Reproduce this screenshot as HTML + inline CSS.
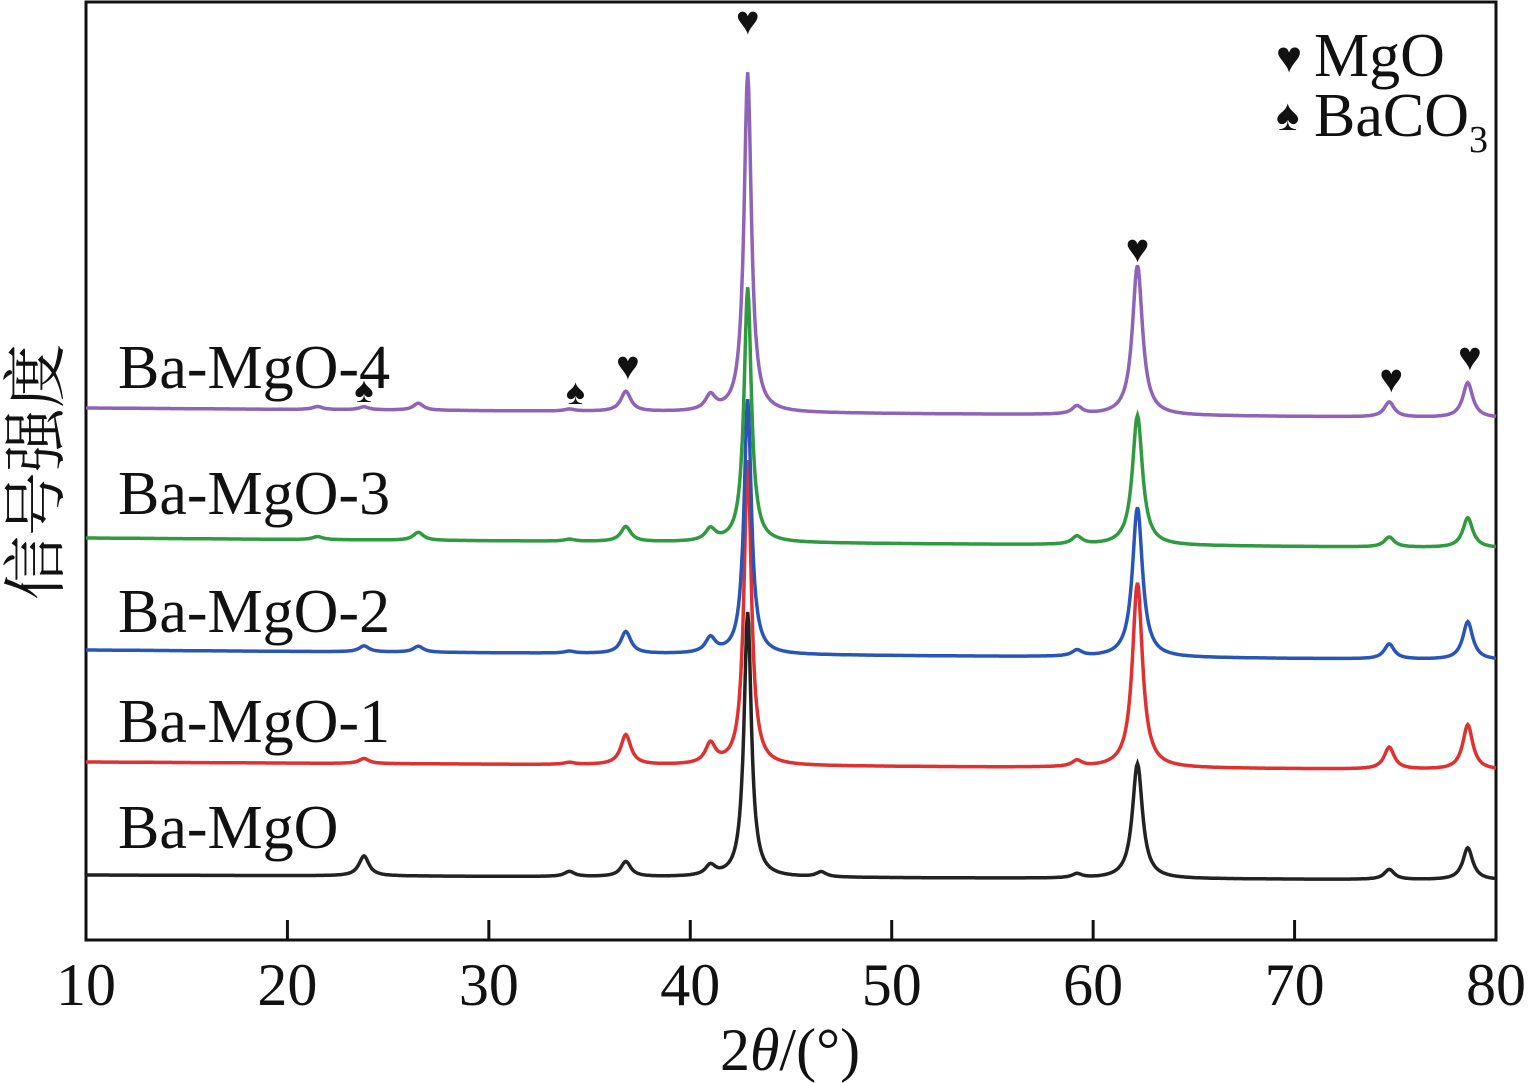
<!DOCTYPE html>
<html><head><meta charset="utf-8"><style>
body{margin:0;background:#fff}
svg{display:block}
text{font-family:"Liberation Serif","Noto Serif CJK SC",serif;fill:#111}
</style></head><body>
<svg id="chart" width="1528" height="1083" viewBox="0 0 1528 1083" xmlns="http://www.w3.org/2000/svg">
<rect x="86" y="2" width="1410" height="938" fill="none" stroke="#111" stroke-width="3"/>
<g id="ticks"></g>
<g id="series"></g>
<g id="marks"></g>
<text transform="translate(58,472) rotate(-90)" text-anchor="middle" font-size="64" style="font-family:'Noto Serif CJK SC','Noto Sans CJK SC',serif">信号强度</text>
<text x="790" y="1070" text-anchor="middle" font-size="60">2<tspan font-style="italic">θ</tspan>/(°)</text>
<g>
<text x="1276" y="72" font-size="44">♥</text>
<text x="1314" y="76" font-size="62">MgO</text>
<text x="1276" y="130" font-size="44">♠</text>
<text x="1314" y="136" font-size="62">BaCO<tspan font-size="38" dy="16">3</tspan></text>
</g>
</svg>
<script>
const xTicks=[10,20,30,40,50,60,70,80];
const seriesNames=["Ba-MgO","Ba-MgO-1","Ba-MgO-2","Ba-MgO-3","Ba-MgO-4"];
const seriesColors=["#222","#e03030","#2a55b8","#2f9a3f","#8e63b8"];
const baseLeft=[65,178,290,402,532];
const baseRight=[60,170,280,392,522];
const peakPos=[21.5,23.8,26.5,34,36.8,41,42.85,46.5,59.2,62.2,74.7,78.6];
const peaksBlack=[0,20,0,5,15,10,265,5,4,115,10,32];
const peaksRed=[0,5,0,2,30,20,305,0,6,185,22,45];
const peaksBlue=[0,6,6,2,22,15,255,0,6,150,15,38];
const peaksGreen=[3,0,8,2,15,12,255,0,8,130,10,30];
const peaksPurple=[3,3,7,2,20,15,340,0,8,150,15,35];
const allPeaks=[peaksBlack,peaksRed,peaksBlue,peaksGreen,peaksPurple];
const labelY=[848,742,632,514,388];
const heartMarks=[[42.85,22],[62.2,250],[74.8,380],[78.7,358],[36.9,367]];
const spadeMarks=[[23.8,390],[34.3,392]];

const X0=86,X1=1496,YB=940;
const xs=v=>X0+(v-10)*(X1-X0)/70;
const ys=v=>YB-v;
const NS="http://www.w3.org/2000/svg";
const tg=document.getElementById('ticks');
xTicks.forEach(t=>{
  const l=document.createElementNS(NS,'line');
  
  
  l.setAttribute('x1',xs(t));l.setAttribute('x2',xs(t));
  l.setAttribute('y1',YB);l.setAttribute('y2',YB-20);
  l.setAttribute('stroke','#111');l.setAttribute('stroke-width','3');
  tg.appendChild(l);
  const tx=document.createElementNS(NS,'text');
  
  
  tx.setAttribute('x',xs(t));tx.setAttribute('y',1005);
  tx.setAttribute('text-anchor','middle');tx.setAttribute('font-size','60');
  tx.textContent=t;tg.appendChild(tx);
});
const sg=document.getElementById('series');
allPeaks.forEach((pk,i)=>{
  let d='';
  for(let a=10;a<=80.001;a+=0.05){
    let v=baseLeft[i]+(baseRight[i]-baseLeft[i])*(a-10)/70;
    pk.forEach((h,j)=>{const g=peakPos[j]>42&&peakPos[j]<43.5?0.22:0.3;const dx=(a-peakPos[j])/g;v+=h/(1+dx*dx);});
    d+=(d?'L':'M')+xs(a).toFixed(1)+' '+ys(v).toFixed(1);
  }
  const p=document.createElementNS(NS,'path');
  
  
  p.setAttribute('d',d);p.setAttribute('fill','none');
  p.setAttribute('stroke',seriesColors[i]);p.setAttribute('stroke-width','3.5');
  sg.appendChild(p);
  const t=document.createElementNS(NS,'text');
  
  
  t.setAttribute('x',118);t.setAttribute('y',labelY[i]);t.setAttribute('font-size','62');
  t.textContent=seriesNames[i];sg.appendChild(t);
});
const mg=document.getElementById('marks');
heartMarks.forEach(m=>{
  const t=document.createElementNS(NS,'text');
  
  
  t.setAttribute('x',xs(m[0]));t.setAttribute('y',m[1]+12);
  t.setAttribute('text-anchor','middle');t.setAttribute('font-size','40');
  t.textContent='♥';mg.appendChild(t);
});
spadeMarks.forEach(m=>{
  const t=document.createElementNS(NS,'text');
  
  
  t.setAttribute('x',xs(m[0]));t.setAttribute('y',m[1]+12);
  t.setAttribute('text-anchor','middle');t.setAttribute('font-size','36');
  t.textContent='♠';mg.appendChild(t);
});
</script>
</body></html>
